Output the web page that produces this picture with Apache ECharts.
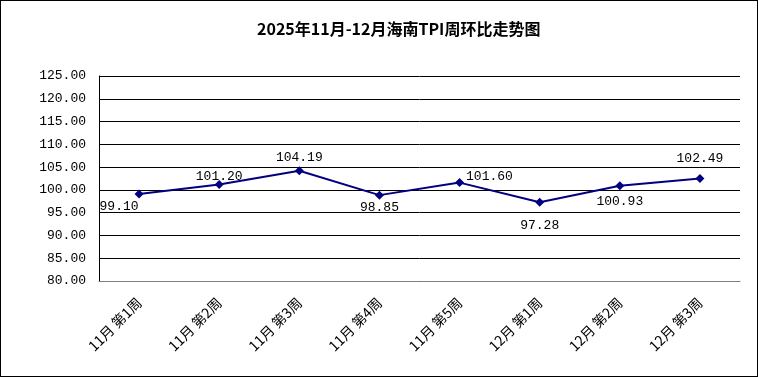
<!DOCTYPE html>
<html>
<head>
<meta charset="utf-8">
<script src="https://cdn.jsdelivr.net/npm/echarts@6/dist/echarts.min.js"></script>
<style>
html, body { margin: 0; padding: 0; background: #fff; }
#main { width: 758px; height: 377px; box-sizing: border-box; border: 1px solid #000; }
</style>
</head>
<body>
<div id="main"></div>
<script>
var weeks = ['11月 第1周', '11月 第2周', '11月 第3周', '11月 第4周', '11月 第5周', '12月 第1周', '12月 第2周', '12月 第3周'];
var tpi = [99.10, 101.20, 104.19, 98.85, 101.60, 97.28, 100.93, 102.49];

// label placement per point, as seen in the picture
var labelStyle = [
    { position: 'bottom', offset: [-20, -3] },
    { position: 'top', offset: [0, 8] },
    { position: 'top', offset: [0, 3] },
    { position: 'bottom', offset: [0, -4] },
    { position: 'right', offset: [-3, -6] },
    { position: 'bottom', offset: [0, 7] },
    { position: 'bottom', offset: [0, 0] },
    { position: 'top', offset: [0, -4] }
];

var numFont = '"Liberation Mono", "DejaVu Sans Mono", monospace';

var points = tpi.map(function (v, i) {
    return { value: v, label: labelStyle[i] };
});

var chart = echarts.init(document.getElementById('main'));
var option = {
    animation: false,
    title: {
        text: '2025年11月-12月海南TPI周环比走势图',
        left: 251,
        top: 15,
        textStyle: {
            fontFamily: '"Noto Sans CJK SC", sans-serif',
            fontSize: 16,
            fontWeight: 'bold',
            color: '#000'
        }
    },
    grid: { left: 98, right: 17, top: 75, bottom: 95 },
    xAxis: {
        type: 'category',
        data: weeks,
        boundaryGap: true,
        axisLine: { lineStyle: { color: '#808080', width: 1 } },
        axisTick: { inside: true, length: 5, lineStyle: { color: '#808080' } },
        axisLabel: {
            rotate: 45,
            interval: 0,
            margin: 19,
            color: '#000',
            fontSize: 14,
            fontFamily: '"Noto Sans CJK SC", sans-serif'
        }
    },
    yAxis: {
        type: 'value',
        min: 80,
        max: 125,
        interval: 5,
        axisLine: { show: true, lineStyle: { color: '#000' } },
        axisTick: { show: false },
        splitLine: { lineStyle: { color: '#000', width: 1 } },
        axisLabel: {
            margin: 13,
            color: '#000',
            fontSize: 13,
            fontFamily: numFont,
            formatter: function (v) { return v.toFixed(2); }
        }
    },
    series: [
        {
            name: 'TPI',
            type: 'line',
            data: points,
            symbol: 'diamond',
            symbolSize: 9,
            lineStyle: { color: '#000080', width: 2 },
            itemStyle: { color: '#000080' },
            label: {
                show: true,
                color: '#000',
                fontSize: 13,
                fontFamily: numFont,
                formatter: function (p) { return p.value.toFixed(2); }
            }
        }
    ]
};
chart.setOption(option);
</script>
</body>
</html>
